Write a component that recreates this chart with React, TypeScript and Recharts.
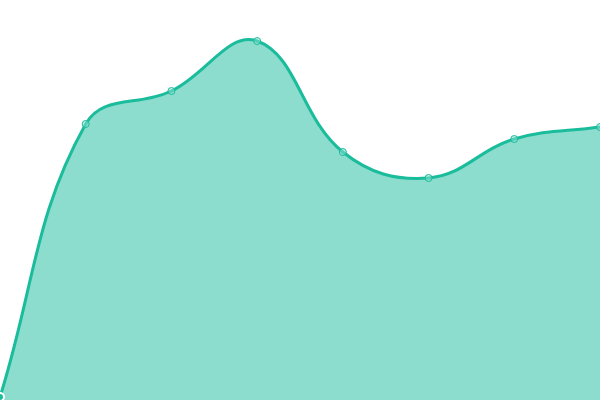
import React from "react";
import { AreaChart, Area, XAxis, YAxis } from "recharts";

const categories = ["A", "B", "C", "D", "E", "F", "G", "H"];
const values = [3, 276, 309, 359, 248, 222, 261, 273];

const data = categories.map((c, i) => ({ name: c, value: values[i] }));

const W = 600;
const H = 400;
const TENSION = 0.4;

function splineCurve(context: any) {
  let pts: number[][] = [];
  let line = NaN;
  const clamp = (v: number, lo: number, hi: number) => Math.max(lo, Math.min(hi, v));
  return {
    areaStart() {
      line = 0;
    },
    areaEnd() {
      line = NaN;
    },
    lineStart() {
      pts = [];
    },
    point(x: number, y: number) {
      pts.push([+x, +y]);
    },
    lineEnd() {
      const n = pts.length;
      if (n) {
        if (line) context.lineTo(pts[0][0], pts[0][1]);
        else context.moveTo(pts[0][0], pts[0][1]);
        const cpPrev: number[][] = [];
        const cpNext: number[][] = [];
        for (let i = 0; i < n; i++) {
          const prev = pts[Math.max(0, i - 1)];
          const cur = pts[i];
          const next = pts[Math.min(n - 1, i + 1)];
          const d01 = Math.hypot(cur[0] - prev[0], cur[1] - prev[1]);
          const d12 = Math.hypot(next[0] - cur[0], next[1] - cur[1]);
          let s01 = d01 / (d01 + d12);
          let s12 = d12 / (d01 + d12);
          if (isNaN(s01)) s01 = 0;
          if (isNaN(s12)) s12 = 0;
          const fa = TENSION * s01;
          const fb = TENSION * s12;
          cpPrev.push([
            clamp(cur[0] - fa * (next[0] - prev[0]), 0, W),
            clamp(cur[1] - fa * (next[1] - prev[1]), 0, H),
          ]);
          cpNext.push([
            clamp(cur[0] + fb * (next[0] - prev[0]), 0, W),
            clamp(cur[1] + fb * (next[1] - prev[1]), 0, H),
          ]);
        }
        for (let i = 1; i < n; i++) {
          context.bezierCurveTo(
            cpNext[i - 1][0],
            cpNext[i - 1][1],
            cpPrev[i][0],
            cpPrev[i][1],
            pts[i][0],
            pts[i][1]
          );
        }
      }
      if (line || (line !== 0 && n === 1)) context.closePath();
      line = 1 - line;
    },
  };
}

export default function App() {
  return (
    <div style={{ position: "absolute", top: 0, left: 0, width: W, height: H }}>
      <AreaChart width={W} height={H} data={data} margin={{ top: 0, right: 0, bottom: 0, left: 0 }}>
        <XAxis dataKey="name" hide />
        <YAxis hide domain={[0, 400]} />
        <Area
          type={splineCurve as any}
          dataKey="value"
          stroke="#1abc9c"
          strokeWidth={3}
          fill="#1abc9c"
          fillOpacity={0.5}
          dot={{ r: 3.5, fill: "#8ae0cf", stroke: "#1abc9c", strokeWidth: 1 }}
          isAnimationActive={false}
        />
      </AreaChart>
    </div>
  );
}
